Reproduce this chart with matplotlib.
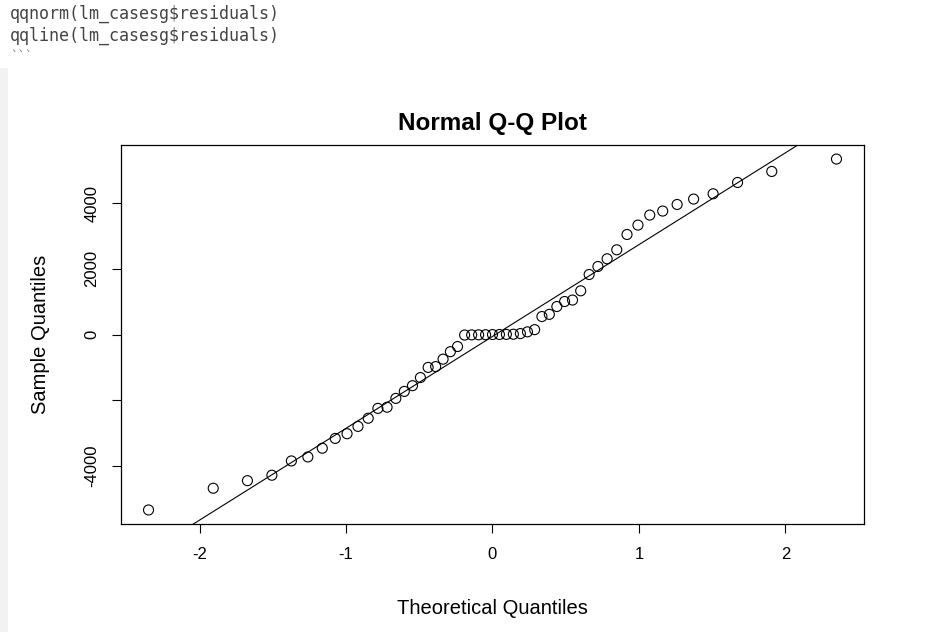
import numpy as np
import matplotlib
matplotlib.use("Agg")
import matplotlib.pyplot as plt
from statistics import NormalDist

# Sorted residuals (lm_casesg$residuals)
residuals = [
    -5338, -4677, -4446, -4281, -3846, -3724, -3459, -3161, -3018, -2795,
    -2546, -2247, -2211, -1943, -1730, -1556, -1309, -1000, -975, -749,
    -521, -365, -15, -10, -8, -5, 0, 2, 5, 10, 30,
    82, 149, 548, 615, 853, 1005, 1050, 1331, 1827, 2071,
    2305, 2579, 3045, 3331, 3636, 3758, 3958, 4123, 4284, 4628,
    4963, 5341,
]
x_ticks = [-2, -1, 0, 1, 2]
x_tick_labels = ["-2", "-1", "0", "1", "2"]
y_ticks = [-4000, -2000, 0, 2000, 4000]
y_tick_labels = ["-4000", "", "0", "2000", "4000"]
title = "Normal Q-Q Plot"
x_label = "Theoretical Quantiles"
y_label = "Sample Quantiles"
code_lines = ["qqnorm(lm_casesg$residuals)", "qqline(lm_casesg$residuals)"]

# theoretical quantiles, as R's qqnorm (ppoints)
y = np.sort(np.array(residuals, dtype=float))
n = len(y)
a = 3 / 8 if n <= 10 else 0.5
nd = NormalDist()
x = np.array([nd.inv_cdf((i - a) / (n + 1 - 2 * a)) for i in range(1, n + 1)])

# qqline as R: through the 1st and 3rd quartiles
q1, q3 = np.quantile(y, [0.25, 0.75])
t1, t3 = nd.inv_cdf(0.25), nd.inv_cdf(0.75)
slope = (q3 - q1) / (t3 - t1)
intercept = q1 - slope * t1

plt.rcParams['font.family'] = ['Liberation Sans', 'DejaVu Sans']

W, H = 931, 632
fig = plt.figure(figsize=(W / 100, H / 100), dpi=100)
fig.patch.set_facecolor("white")

# light frame of the output panel in the screenshot
fig.patches.append(plt.Rectangle((0, 0), 8 / W, (H - 68) / H, transform=fig.transFigure,
                                 facecolor="#f2f2f2", edgecolor="none"))

# code lines at the top of the screenshot
for i, line in enumerate(code_lines):
    fig.text(10 / W, 1 - (14 + 22 * i) / H, line, family="DejaVu Sans Mono",
             fontsize=12, color="#444444", va="center", ha="left", parse_math=False)
fig.text(10 / W, 1 - 57 / H, "```", family="DejaVu Sans Mono",
         fontsize=9, color="#777777", va="center", ha="left", parse_math=False)

ax = fig.add_axes([121 / W, (H - 524) / H, 743 / W, 379 / H])
ax.set_facecolor("white")

ax.scatter(x, y, s=52, facecolors="none", edgecolors="black", linewidths=0.8, zorder=3)
ax.axline((0, intercept), slope=slope, color="black", linewidth=0.8, zorder=2)

xr = x.max() - x.min()
yr = y.max() - y.min()
ax.set_xlim(x.min() - 0.04 * xr, x.max() + 0.04 * xr)
ax.set_ylim(y.min() - 0.04 * yr, y.max() + 0.04 * yr)

ax.set_xticks(x_ticks)
ax.set_xticklabels(x_tick_labels)
ax.set_yticks(y_ticks)
ax.set_yticklabels(y_tick_labels, rotation=90, va="center")
ax.tick_params(axis="both", length=6.5, width=0.8, color="black", labelsize=12)
ax.tick_params(axis="x", pad=10)
ax.tick_params(axis="y", pad=9)
for sp in ax.spines.values():
    sp.set_linewidth(0.9)
    sp.set_color("black")

ax.set_title(title, fontsize=17.5, fontweight="bold", pad=11)
ax.set_xlabel(x_label, fontsize=14.5, labelpad=27)
ax.set_ylabel(y_label, fontsize=14.5, labelpad=25)

fig.savefig("out.png", dpi=100)
